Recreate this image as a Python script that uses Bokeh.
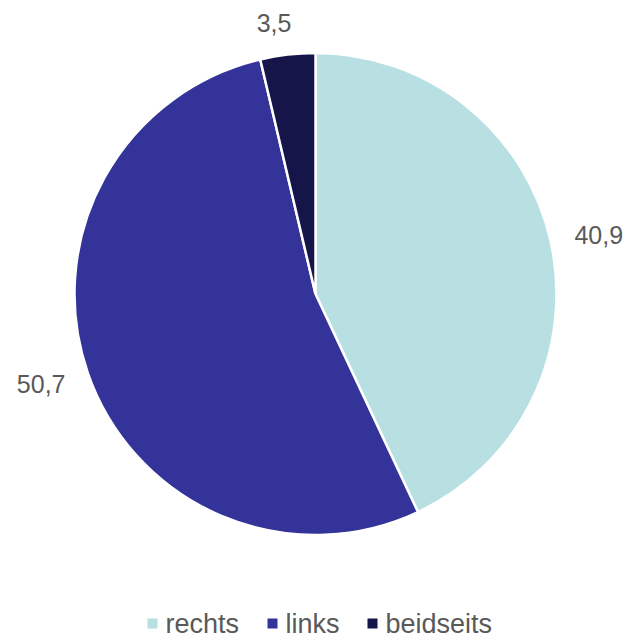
import math
from bokeh.plotting import figure
from bokeh.models import Range1d, ColumnDataSource
from bokeh.core.properties import value
from bokeh.embed import file_html
from bokeh.resources import INLINE

categories = ["rechts", "links", "beidseits"]
values = [40.9, 50.7, 3.5]
labels = ["40,9", "50,7", "3,5"]
colors = ["#B8E0E3", "#333399", "#15154A"]

W, H = 630, 637
cx, cy = 315, H - 293.5
R = 241

total = sum(values)
starts, ends, lx, ly = [], [], [], []
acc = 0.0
for v in values:
    a0 = math.pi / 2 - 2 * math.pi * acc / total
    acc += v
    a1 = math.pi / 2 - 2 * math.pi * acc / total
    starts.append(a0)
    ends.append(a1)
    mid = (a0 + a1) / 2
    c, s = math.cos(mid), math.sin(mid)
    lx.append(cx + (R + 40) * c + (9 if c > 0 else -9))
    ly.append(cy + (R + 32) * s)

src = ColumnDataSource(dict(cat=categories, val=values, lab=labels, col=colors,
                            start=starts, end=ends, lx=lx, ly=ly))

p = figure(width=W, height=H, output_backend="svg", toolbar_location=None,
           x_range=Range1d(0, W), y_range=Range1d(0, H), min_border=0,
           x_axis_type=None, y_axis_type=None)
p.grid.visible = False
p.outline_line_color = None
p.background_fill_color = "white"
p.border_fill_color = "white"

p.wedge(x=cx, y=cy, radius=R, start_angle="start", end_angle="end",
        direction="clock", fill_color="col", line_color="white", line_width=2.5,
        source=src)

p.text(x="lx", y="ly", text="lab", source=src, text_align="center",
       text_baseline="middle", text_font=value("Liberation Sans"),
       text_font_size="25px", text_color="#595959")

# legend
leg_sq_x = [152, 272, 372]
leg_y = H - 623
leg_src = ColumnDataSource(dict(x=leg_sq_x, tx=[x + 13 for x in leg_sq_x],
                                y=[leg_y] * 3, col=colors, cat=categories))
p.rect(x="x", y="y", width=10, height=10, fill_color="col", line_color=None,
       source=leg_src)
p.text(x="tx", y="y", text="cat", source=leg_src, text_align="left",
       text_baseline="middle", text_font=value("Liberation Sans"),
       text_font_size="27px", text_color="#595959")

open("out.html", "w").write(file_html(p, INLINE))
